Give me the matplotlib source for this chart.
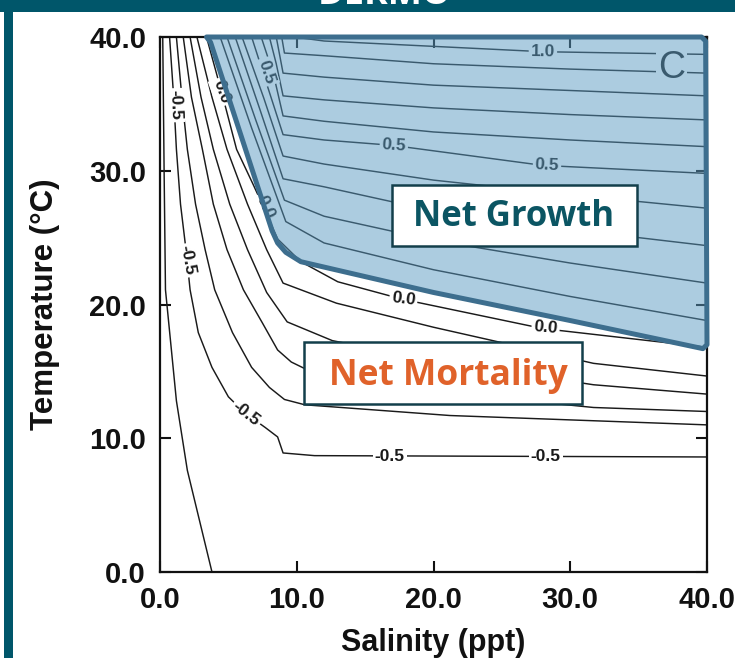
import matplotlib
matplotlib.use("Agg")
import matplotlib.pyplot as plt
from matplotlib.patches import Rectangle, Polygon

# ---------------- data ----------------
x_ticks = [0, 10, 20, 30, 40]
y_ticks = [0, 10, 20, 30, 40]
tick_labels = ["0.0", "10.0", "20.0", "30.0", "40.0"]

# contour lines: salinity (ppt) / temperature (C) points along each level
sal_n06 = [0.2, 0.3, 0.4, 1.2, 2.0, 3.8]
tmp_n06 = [40.0, 30.0, 21.1, 12.8, 7.6, 0.0]
sal_n05 = [0.7, 1.0, 1.2, 1.5, 1.9, 2.2, 2.8, 3.8, 5.0, 6.2, 7.7, 8.6, 9.0, 11.3, 40.0]
tmp_n05 = [40.0, 35.5, 31.6, 27.5, 24.1, 21.1, 17.9, 15.3, 13.1, 11.9, 10.8, 10.1, 8.9, 8.7, 8.6]
sal_n04 = [1.2, 1.6, 2.0, 2.6, 3.3, 4.0, 5.3, 6.7, 8.0, 9.1, 10.6, 21.2, 40.0]
tmp_n04 = [40.0, 35.5, 31.6, 27.5, 24.1, 21.1, 17.9, 15.3, 13.8, 12.9, 12.5, 11.7, 11.0]
sal_n03 = [1.7, 2.3, 3.1, 3.9, 4.9, 6.1, 7.5, 8.6, 9.6, 10.5, 20.0, 31.7, 40.0]
tmp_n03 = [40.0, 35.5, 31.6, 27.5, 24.1, 21.1, 18.6, 16.6, 15.7, 15.25, 13.5, 12.3, 12.0]
sal_n02 = [2.2, 3.0, 3.9, 5.1, 6.4, 7.8, 9.3, 12.6, 20.0, 31.7, 40.0]
tmp_n02 = [40.0, 35.5, 31.6, 27.5, 24.1, 20.9, 18.7, 17.3, 15.8, 14.0, 13.3]
sal_n01 = [2.7, 3.8, 4.9, 6.4, 7.8, 9.0, 12.9, 20.0, 31.7, 40.0]
tmp_n01 = [40.0, 35.5, 31.6, 27.5, 24.1, 21.6, 20.1, 18.3, 15.6, 14.65]
sal_p00 = [3.4, 4.5, 5.6, 6.8, 7.7, 8.6, 10.3, 13.0, 17.7, 28.0, 40.0]
tmp_p00 = [40.0, 35.9, 31.6, 29.0, 27.0, 24.9, 23.2, 21.7, 20.4, 18.2, 16.8]
sal_p01 = [4.4, 6.7, 9.2, 12.0, 20.0, 30.0, 40.0]
tmp_p01 = [40.0, 33.2, 26.2, 24.6, 22.6, 20.6, 18.8]
sal_p02 = [4.9, 7.0, 9.1, 12.0, 20.0, 30.0, 40.0]
tmp_p02 = [40.0, 33.8, 27.8, 26.6, 24.8, 23.1, 21.6]
sal_p03 = [5.5, 7.3, 9.0, 12.0, 20.0, 30.0, 40.0]
tmp_p03 = [40.0, 34.6, 29.4, 28.8, 27.0, 25.6, 24.4]
sal_p04 = [6.0, 7.6, 9.0, 12.0, 20.0, 30.0, 40.0]
tmp_p04 = [40.0, 35.4, 31.1, 30.5, 29.3, 28.2, 27.2]
sal_p05 = [6.7, 7.8, 9.0, 12.0, 17.0, 28.0, 40.0]
tmp_p05 = [40.0, 36.5, 32.7, 32.3, 31.9, 30.4, 29.8]
sal_p06 = [7.4, 8.3, 9.0, 12.0, 20.0, 30.0, 40.0]
tmp_p06 = [40.0, 37.2, 34.1, 33.7, 32.9, 32.3, 31.8]
sal_p07 = [8.0, 8.5, 9.0, 12.0, 20.0, 30.0, 40.0]
tmp_p07 = [40.0, 38.0, 35.6, 35.3, 34.7, 34.2, 33.8]
sal_p08 = [8.5, 9.0, 12.0, 20.0, 30.0, 40.0]
tmp_p08 = [40.0, 37.3, 37.0, 36.4, 36.0, 35.6]
sal_p09 = [8.9, 9.1, 12.0, 20.0, 30.0, 40.0]
tmp_p09 = [40.0, 38.8, 38.6, 38.0, 37.6, 37.3]
sal_p10 = [9.8, 12.0, 20.0, 28.0, 40.0]
tmp_p10 = [40.0, 39.7, 39.3, 38.9, 38.7]

# contour labels: text, salinity, temperature, rotation
lab_text = ["1.0", "0.5", "0.5", "0.0", "0.0", "-0.5", "-0.5", "-0.5",
            "-0.5", "-0.5", "0.0", "0.0", "0.5"]
lab_sal = [28.0, 17.1, 28.3, 17.8, 28.2, 16.8, 28.2, 6.3, 1.1, 2.0, 4.5, 7.7, 7.8]
lab_tmp = [38.9, 31.9, 30.4, 20.4, 18.3, 8.6, 8.6, 11.8, 34.9, 23.3, 35.9, 27.3, 37.4]
lab_rot = [-1, -4, -3, -7, -5, 0, 0, -38, -88, -80, -70, -66, -72]

# "Net growth" region outline (salinity, temperature)
grow_sal = [3.4, 39.6, 39.9, 40.0, 39.7, 30.0, 20.0, 10.3, 9.2, 8.6, 8.2, 3.7]
grow_tmp = [40.0, 40.0, 39.7, 17.0, 16.7, 18.8, 20.9, 23.2, 23.9, 24.6, 25.5, 39.6]

# ---------------- figure ----------------
W, H = 735, 658
fig = plt.figure(figsize=(W / 100, H / 100), dpi=100)
fig.patch.set_facecolor("white")

teal = "#00566a"
fig.patches.append(Rectangle((0, 1 - 12 / H), 1, 12 / H, transform=fig.transFigure,
                             facecolor=teal, edgecolor="none", zorder=0))
fig.patches.append(Rectangle((4 / W, 0), 9 / W, 1, transform=fig.transFigure,
                             facecolor=teal, edgecolor="none", zorder=0))
fig.text(385 / W, 1 - 4 / H, "DERMO", color="white", fontsize=26, fontweight="bold",
         family="Open Sans", ha="center", va="baseline")

ax = fig.add_axes([160 / W, 1 - 572 / H, 547 / W, 535 / H])
ax.set_xlim(0, 40)
ax.set_ylim(0, 40)

lines = [(sal_n06, tmp_n06), (sal_n05, tmp_n05), (sal_n04, tmp_n04), (sal_n03, tmp_n03),
         (sal_n02, tmp_n02), (sal_n01, tmp_n01), (sal_p00, tmp_p00), (sal_p01, tmp_p01),
         (sal_p02, tmp_p02), (sal_p03, tmp_p03), (sal_p04, tmp_p04), (sal_p05, tmp_p05),
         (sal_p06, tmp_p06), (sal_p07, tmp_p07), (sal_p08, tmp_p08), (sal_p09, tmp_p09),
         (sal_p10, tmp_p10)]
for s, t in lines:
    ax.plot(s, t, color="#1a1a1a", lw=1.05, solid_joinstyle="round", zorder=2, clip_on=True)

for txt, s, t, r in zip(lab_text, lab_sal, lab_tmp, lab_rot):
    ax.text(s, t, txt, rotation=r, ha="center", va="center", fontsize=12.5,
            family="Liberation Sans", fontweight="bold", color="#1a1a1a", zorder=3,
            rotation_mode="anchor",
            bbox=dict(boxstyle="square,pad=0.12", facecolor="white", edgecolor="none"))

ax.text(37.4, 37.7, "C", ha="center", va="center", fontsize=27, family="Liberation Sans",
        color="#1a1a1a", zorder=3,
        bbox=dict(boxstyle="square,pad=0.05", facecolor="white", edgecolor="none"))

# overlay of the net growth region
ax.add_patch(Polygon(list(zip(grow_sal, grow_tmp)), closed=True, facecolor="#5a9ac2",
                     alpha=0.5, edgecolor="none", zorder=4, clip_on=False))
ax.add_patch(Polygon(list(zip(grow_sal, grow_tmp)), closed=True, facecolor="none",
                     edgecolor="#3d6e8e", lw=3.6, joinstyle="round", zorder=5, clip_on=False))

ax.set_xticks(x_ticks)
ax.set_yticks(y_ticks)
ax.set_xticklabels(tick_labels)
ax.set_yticklabels(tick_labels)
ax.tick_params(direction="in", length=8, width=1.5, top=True, right=True, pad=10,
               labelsize=21, colors="#111111")
for lab in ax.get_xticklabels() + ax.get_yticklabels():
    lab.set_family("Liberation Sans")
    lab.set_fontweight("bold")
for sp in ax.spines.values():
    sp.set_linewidth(1.6)
    sp.set_color("#111111")
    sp.set_zorder(3.5)

ax.set_xlabel("Salinity (ppt)", fontsize=22, family="Liberation Sans", fontweight="bold",
              labelpad=10, color="#111111")
ax.set_ylabel("Temperature (\u00b0C)", fontsize=22.5, family="Liberation Sans",
              fontweight="bold", labelpad=21, color="#111111")

# annotation boxes
fig.patches.append(Rectangle((392 / W, 1 - 246 / H), 245 / W, 61 / H, transform=fig.transFigure,
                             facecolor="white", edgecolor="#133f4b", lw=1.8, zorder=6))
fig.text(514 / W, 1 - 217 / H, "Net Growth", color="#0b5563", fontsize=25,
         fontweight="bold", family="Open Sans", ha="center", va="center", zorder=7)
fig.patches.append(Rectangle((304 / W, 1 - 404 / H), 278 / W, 62 / H, transform=fig.transFigure,
                             facecolor="white", edgecolor="#133f4b", lw=1.8, zorder=6))
fig.text(448 / W, 1 - 376 / H, "Net Mortality", color="#e0622a", fontsize=25.5,
         fontweight="bold", family="Open Sans", ha="center", va="center", zorder=7)

fig.savefig("out.png", dpi=100)
